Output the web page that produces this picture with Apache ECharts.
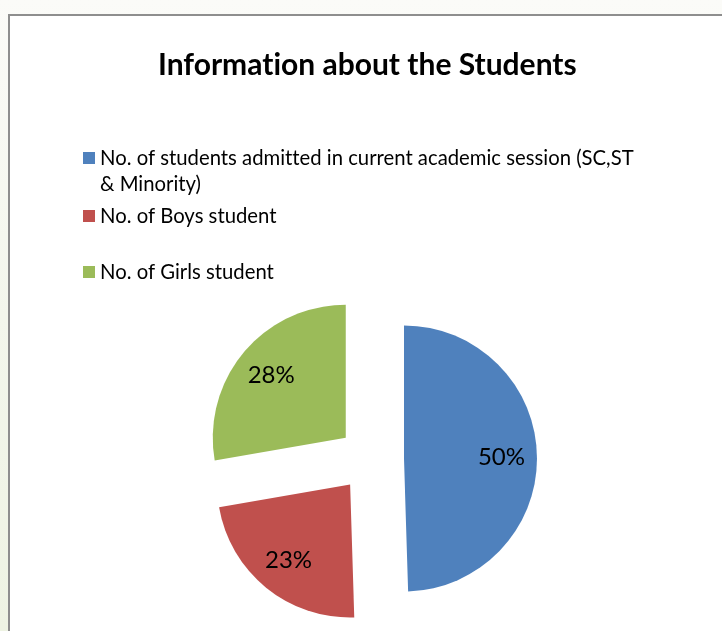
<!DOCTYPE html>
<html>
<head>
<meta charset="utf-8">
<script src="https://cdn.jsdelivr.net/npm/echarts@6/dist/echarts.min.js"></script>
<style>
html,body{margin:0;padding:0;width:722px;height:631px;overflow:hidden;
background:linear-gradient(180deg,#fbfbf8 0%,#f3f6ec 50%,#eef3e3 100%);}
#c{width:722px;height:631px;}
</style>
</head>
<body>
<div id="c"></div>
<script>
const titleText = 'Informat\u200Cion about the Students';
const categories = [
  'No. of students admitted in current academic session (SC,ST & Minority)',
  'No. of Boys student',
  'No. of Girls student'
];
const legendLines = [
  ['No. of students admit\u200Cted in current academic session (SC,ST', '& Minority)'],
  ['No. of Boys student'],
  ['No. of Girls student']
];
const values = [50, 23, 28];

const palette = ['#4F81BD', '#C0504D', '#9BBB59'];
const FONT = 'Lato';

const chart = echarts.init(document.getElementById('c'), null, {renderer: 'canvas'});

const pieData = categories.map((n, i) => ({
  name: n, value: values[i], selected: true, itemStyle: {color: palette[i]}
}));
const labelData = categories.map((n, i) => ({
  name: n, value: values[i], selected: true
}));

const legendTops = [148, 206, 262];
const legends = categories.map((n, i) => ({
  show: true,
  left: 83,
  top: legendTops[i],
  padding: 0,
  orient: 'vertical',
  icon: 'rect',
  itemWidth: 12,
  itemHeight: 12,
  selectedMode: false,
  data: [{name: n, itemStyle: {color: palette[i]}}],
  formatter: () => legendLines[i][0],
  textStyle: {fontFamily: FONT, fontSize: 20.3, color: '#000'}
}));

const option = {
  animation: false,
  backgroundColor: 'transparent',
  title: {
    text: titleText,
    left: 158,
    top: 50,
    padding: 0,
    textStyle: {fontFamily: FONT, fontSize: 30, fontWeight: 'bold', color: '#000'}
  },
  legend: legends,
  graphic: [
    {
      type: 'rect', z: -10, silent: true,
      shape: {x: 9, y: 15, width: 760, height: 680},
      style: {fill: '#ffffff', stroke: '#8e8e8e', lineWidth: 2}
    },
    {
      type: 'text', silent: true, left: 100, top: 174,
      style: {text: legendLines[0][1], font: '20.3px ' + FONT, fill: '#000'}
    }
  ],
  series: [
    {
      type: 'pie',
      center: [371, 459],
      radius: [0, 133],
      startAngle: 90,
      clockwise: true,
      selectedMode: 'multiple',
      selectedOffset: 33,
      silent: true,
      label: {show: false},
      labelLine: {show: false},
      data: pieData
    },
    {
      type: 'pie',
      center: [371, 459],
      radius: [56, 133],
      startAngle: 90,
      clockwise: true,
      selectedMode: 'multiple',
      selectedOffset: 33,
      silent: true,
      itemStyle: {color: 'rgba(0,0,0,0)'},
      label: {
        show: true, position: 'inside', formatter: '{c}%',
        fontFamily: FONT, fontSize: 24, color: '#000'
      },
      labelLine: {show: false},
      data: labelData
    }
  ]
};
chart.setOption(option);
</script>
</body>
</html>
